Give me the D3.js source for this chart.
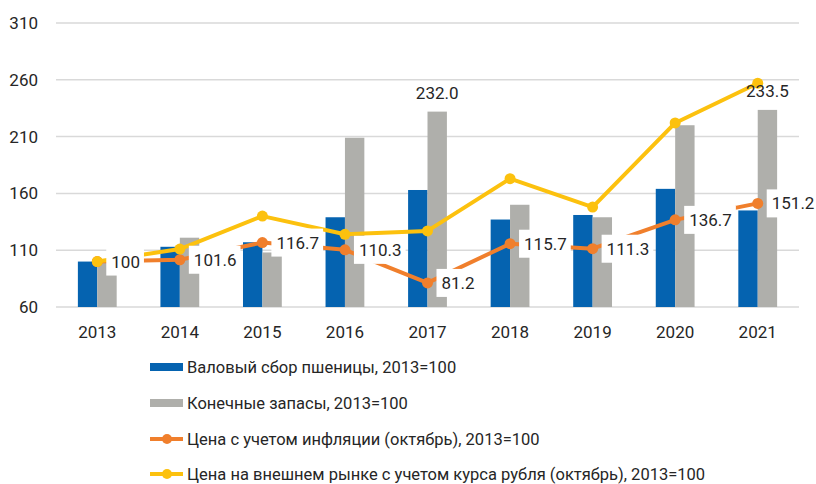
<!DOCTYPE html>
<html>
<head>
<meta charset="utf-8">
<script src="https://cdn.jsdelivr.net/npm/d3@7"></script>
<style>
  body { margin: 0; background: #fff; }
  svg text { font-family: Roboto, "Noto Sans", sans-serif; fill: #262626; }
</style>
</head>
<body>
<script>
const years = ["2013", "2014", "2015", "2016", "2017", "2018", "2019", "2020", "2021"];
const harvest = [100, 113, 117, 139, 163, 137, 141, 164, 145];
const stocks = [100, 121, 108, 209, 232.0, 150, 139, 220, 233.5];
const priceInfl = [100, 101.6, 116.7, 110.3, 81.2, 115.7, 111.3, 136.7, 151.2];
const priceWorld = [100, 111, 140, 124, 127, 173, 148, 222, 257];
const yTicks = [60, 110, 160, 210, 260, 310];
const stockLabelYears = ["2017", "2021"];
const legendNames = [
  "Валовый сбор пшеницы, 2013=100",
  "Конечные запасы, 2013=100",
  "Цена с учетом инфляции (октябрь), 2013=100",
  "Цена на внешнем рынке с учетом курса рубля (октябрь), 2013=100"
];

const blue = "#0563b0", gray = "#afafab", orange = "#f07f2c", yellow = "#fcc10e";
const w = 816, h = 484;
const plotL = 56, plotR = 799, plotT = 23, plotB = 307;

const svg = d3.select("body").append("svg")
  .attr("width", w).attr("height", h);

const y = d3.scaleLinear().domain([60, 310]).range([plotB, plotT]);
const x0 = d3.scaleBand().domain(years).range([plotL, plotR])
  .paddingInner(0.53).paddingOuter(0.265);
const x1 = d3.scaleBand().domain(["harvest", "stocks"]).range([0, x0.bandwidth()]);
const cx = d => x0(d) + x0.bandwidth() / 2;

// gridlines
svg.append("g").selectAll("line")
  .data(yTicks).enter().append("line")
  .attr("x1", plotL).attr("x2", plotR)
  .attr("y1", d => y(d)).attr("y2", d => y(d))
  .attr("stroke", "#d9d9d9").attr("stroke-width", 1.5);

svg.append("g").selectAll("text")
  .data(yTicks).enter().append("text")
  .attr("x", 38).attr("y", d => y(d))
  .attr("text-anchor", "end").attr("dominant-baseline", "central")
  .attr("font-size", 17)
  .text(d => d);

svg.append("g").selectAll("text")
  .data(years).enter().append("text")
  .attr("x", cx).attr("y", 332)
  .attr("text-anchor", "middle").attr("dominant-baseline", "central")
  .attr("font-size", 17)
  .text(d => d);

// bars
svg.append("g").selectAll("rect")
  .data(years).enter().append("rect")
  .attr("x", d => x0(d) + x1("harvest"))
  .attr("width", x1.bandwidth())
  .attr("y", (d, i) => y(harvest[i]))
  .attr("height", (d, i) => y(60) - y(harvest[i]))
  .attr("fill", blue);

svg.append("g").selectAll("rect")
  .data(years).enter().append("rect")
  .attr("x", d => x0(d) + x1("stocks"))
  .attr("width", x1.bandwidth())
  .attr("y", (d, i) => y(stocks[i]))
  .attr("height", (d, i) => y(60) - y(stocks[i]))
  .attr("fill", gray);

// lines
const drawLine = (vals, color) => {
  const line = d3.line().x((d, i) => cx(years[i])).y(d => y(d));
  svg.append("path").datum(vals)
    .attr("d", line).attr("fill", "none")
    .attr("stroke", color).attr("stroke-width", 4)
    .attr("stroke-linejoin", "round");
  svg.append("g").selectAll("circle")
    .data(vals).enter().append("circle")
    .attr("cx", (d, i) => cx(years[i])).attr("cy", d => y(d))
    .attr("r", 5.5).attr("fill", color);
};
drawLine(priceInfl, orange);
drawLine(priceWorld, yellow);

// labels for orange line, white boxes
const lbl = svg.append("g").selectAll("g")
  .data(priceInfl).enter().append("g")
  .attr("transform", (d, i) => `translate(${cx(years[i]) + 9},${y(d)})`);
lbl.append("rect").attr("fill", "#fff").attr("y", -14).attr("height", 28);
lbl.append("text")
  .attr("x", 5).attr("dominant-baseline", "central")
  .attr("font-size", 17)
  .text(d => d === 100 ? "100" : d.toFixed(1));
lbl.each(function () {
  const tw = d3.select(this).select("text").node().getComputedTextLength();
  d3.select(this).select("rect").attr("width", tw + 9);
});

// labels above gray bars
svg.append("g").selectAll("text")
  .data(stockLabelYears).enter().append("text")
  .attr("x", d => x0(d) + x1("stocks") + x1.bandwidth() / 2)
  .attr("y", d => y(stocks[years.indexOf(d)]) - 19)
  .attr("text-anchor", "middle").attr("dominant-baseline", "central")
  .attr("font-size", 17)
  .text(d => stocks[years.indexOf(d)].toFixed(1));

// legend
const legendY = [367, 403, 439, 474];
const leg = svg.append("g").selectAll("g")
  .data(legendNames).enter().append("g")
  .attr("transform", (d, i) => `translate(150,${legendY[i]})`);
leg.each(function (d, i) {
  const g = d3.select(this);
  if (i < 2) {
    g.append("rect").attr("x", 0).attr("y", -4).attr("width", 33).attr("height", 8)
      .attr("fill", i === 0 ? blue : gray);
  } else {
    const c = i === 2 ? orange : yellow;
    g.append("line").attr("x1", 0).attr("x2", 33).attr("y1", 0).attr("y2", 0)
      .attr("stroke", c).attr("stroke-width", 4);
    g.append("circle").attr("cx", 17).attr("cy", 0).attr("r", 5).attr("fill", c);
  }
  g.append("text").attr("x", 37).attr("dominant-baseline", "central")
    .attr("font-size", 16.5).text(d);
});
</script>
</body>
</html>
